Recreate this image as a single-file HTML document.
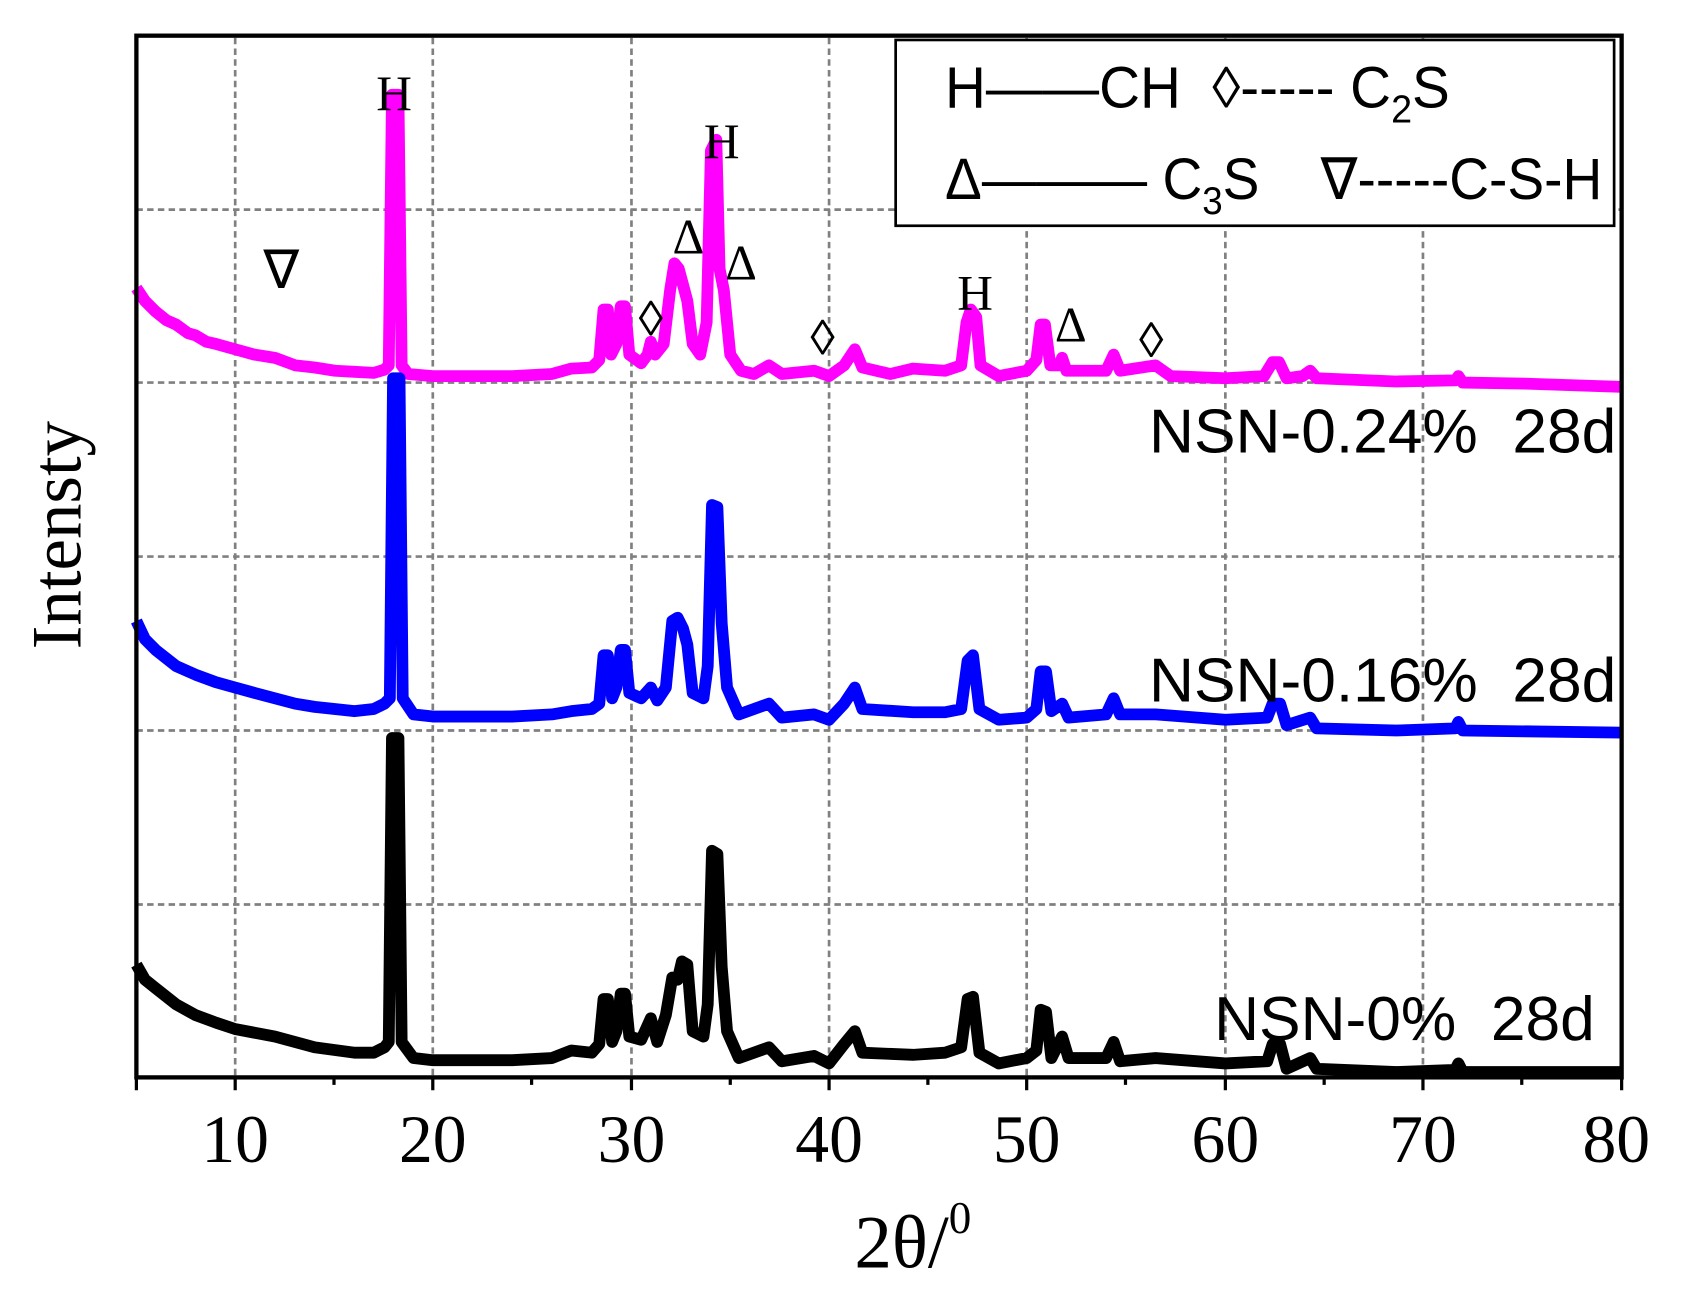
<!DOCTYPE html>
<html><head><meta charset="utf-8"><style>html,body{margin:0;padding:0;background:#fff}svg{display:block}</style></head>
<body>
<svg xmlns="http://www.w3.org/2000/svg" width="1685" height="1301" viewBox="0 0 1569 1211">
<rect width="1569" height="1211" fill="#fff"/>
<g stroke="#808080" stroke-width="2.5" stroke-dasharray="6,4" fill="none">
<path d="M219 35V1003M403 35V1003M588 35V1003M772 35V1003M956 35V1003M1141 35V1003M1325 35V1003"/>
<path d="M127 195H1510M127 356H1510M127 518H1510M127 680H1510M127 842H1510"/>
</g>
<g fill="none" stroke-width="11" stroke-linejoin="round">
<path stroke="#ff00ff" d="M127 268 L135 280 L145 290 L155 298 L164 302 L175 310 L182 312 L192 318 L201 320 L219 325 L237 330 L256 333 L275 340 L293 342 L312 345 L330 346 L348 347 L358 344 L362 340 L365 88 L371 88 L374 340 L380 348 L403 350 L440 350 L477 350 L514 348 L532 343 L551 342 L558 335 L562 288 L566 288 L569 330 L574 320 L578 285 L582 285 L586 330 L597 338 L603 330 L606 318 L610 330 L618 320 L624 270 L628 245 L632 250 L636 265 L640 280 L645 320 L652 330 L658 300 L662 140 L667 130 L670 250 L674 270 L680 330 L690 345 L702 348 L716 340 L728 348 L758 345 L772 350 L786 340 L796 325 L803 342 L829 348 L850 343 L880 345 L895 340 L900 300 L904 288 L909 295 L913 340 L930 350 L956 345 L965 335 L969 302 L973 302 L978 340 L986 340 L989 333 L993 345 L1030 345 L1037 330 L1043 345 L1076 340 L1090 350 L1141 352 L1177 350 L1185 337 L1191 337 L1198 352 L1213 350 L1220 345 L1226 352 L1300 355 L1355 354 L1358 350 L1362 356 L1420 357 L1510 360"/>
<path stroke="#0000ff" d="M127 578 L135 595 L145 605 L164 620 L182 628 L201 635 L219 640 L237 645 L256 650 L275 655 L293 658 L330 662 L348 660 L358 655 L363 650 L366 352 L372 352 L375 650 L385 665 L403 667 L477 667 L514 665 L532 662 L551 660 L558 655 L562 610 L566 610 L570 650 L574 640 L578 605 L582 605 L586 645 L597 650 L606 640 L612 652 L620 640 L626 578 L631 575 L636 585 L640 600 L645 645 L655 650 L659 620 L663 470 L668 472 L672 580 L677 640 L688 665 L716 655 L728 668 L758 665 L772 670 L786 655 L796 640 L803 660 L850 663 L880 663 L895 660 L901 615 L906 610 L912 660 L930 670 L956 668 L965 660 L969 625 L974 625 L979 662 L989 655 L995 668 L1030 665 L1037 650 L1043 665 L1076 665 L1141 670 L1180 668 L1185 655 L1192 655 L1198 675 L1220 668 L1226 678 L1300 680 L1355 678 L1358 672 L1362 680 L1510 682"/>
<path stroke="#000000" d="M127 898 L135 912 L145 920 L164 935 L182 945 L201 952 L219 958 L256 965 L293 975 L330 980 L348 980 L358 975 L362 970 L365 687 L371 687 L374 970 L385 985 L403 987 L477 987 L514 985 L532 978 L551 980 L558 972 L562 930 L566 930 L570 970 L574 960 L578 925 L582 925 L586 965 L597 968 L606 948 L612 970 L620 945 L626 910 L631 912 L635 895 L640 898 L645 960 L655 965 L659 935 L663 792 L668 795 L672 900 L677 960 L688 985 L716 975 L728 988 L758 983 L772 990 L786 972 L796 960 L803 980 L850 982 L880 980 L895 975 L901 930 L906 928 L912 980 L930 990 L956 985 L965 978 L969 940 L974 942 L979 985 L989 965 L995 985 L1030 985 L1037 970 L1043 988 L1076 985 L1141 990 L1180 988 L1185 972 L1192 972 L1198 995 L1220 985 L1226 995 L1300 998 L1355 996 L1358 990 L1362 998 L1510 998"/>
</g>
<rect x="127" y="33" width="1383" height="970" fill="none" stroke="#000" stroke-width="4"/>
<path stroke="#000" stroke-width="3" d="M219 1003v12M403 1003v12M588 1003v12M772 1003v12M956 1003v12M1141 1003v12M1325 1003v12M1510 1003v12M127 1003v12M311 1003v7M495 1003v7M680 1003v7M864 1003v7M1048 1003v7M1233 1003v7M1417 1003v7"/>
<rect x="834" y="37" width="669" height="173" fill="#fff" stroke="#000" stroke-width="2.5"/>
<g font-family="Liberation Sans, sans-serif" font-size="54" fill="#000">
<text x="880" y="100" textLength="470" lengthAdjust="spacingAndGlyphs">H——CH&#160;&#160;◊----- C<tspan font-size="36" dy="14">2</tspan><tspan dy="-14">S</tspan></text>
<text x="880" y="185" textLength="612" lengthAdjust="spacingAndGlyphs">Δ———&#160;C<tspan font-size="36" dy="14">3</tspan><tspan dy="-14">S</tspan>&#160;&#160;&#160;&#160;∇-----C-S-H</text>
</g>
<g font-family="Liberation Sans, sans-serif" font-size="58" fill="#000" text-anchor="end">
<text x="1505" y="421">NSN-0.24%&#160;&#160;28d</text>
<text x="1505" y="653">NSN-0.16%&#160;&#160;28d</text>
<text x="1485" y="968">NSN-0%&#160;&#160;28d</text>
</g>
<g font-family="Liberation Serif, serif" font-size="46" fill="#000" text-anchor="middle">
<text x="367" y="102">H</text><text x="672" y="147">H</text><text x="908" y="288">H</text>
<text x="262" y="268" font-size="50">∇</text>
<text x="641" y="236">Δ</text><text x="690" y="260">Δ</text><text x="997" y="318">Δ</text>
<text x="606" y="312">◊</text><text x="766" y="330">◊</text><text x="1072" y="332">◊</text>
</g>
<g font-family="Liberation Serif, serif" font-size="63" fill="#000" text-anchor="middle">
<text x="219" y="1082">10</text><text x="403" y="1082">20</text><text x="588" y="1082">30</text><text x="772" y="1082">40</text><text x="956" y="1082">50</text><text x="1141" y="1082">60</text><text x="1325" y="1082">70</text><text x="1505" y="1082">80</text>
<text x="850" y="1180" font-size="70">2θ/<tspan font-size="42" dy="-32">0</tspan></text>
<text transform="translate(75 498) rotate(-90)" font-size="66">Intensty</text>
</g>
</svg>
</body></html>
